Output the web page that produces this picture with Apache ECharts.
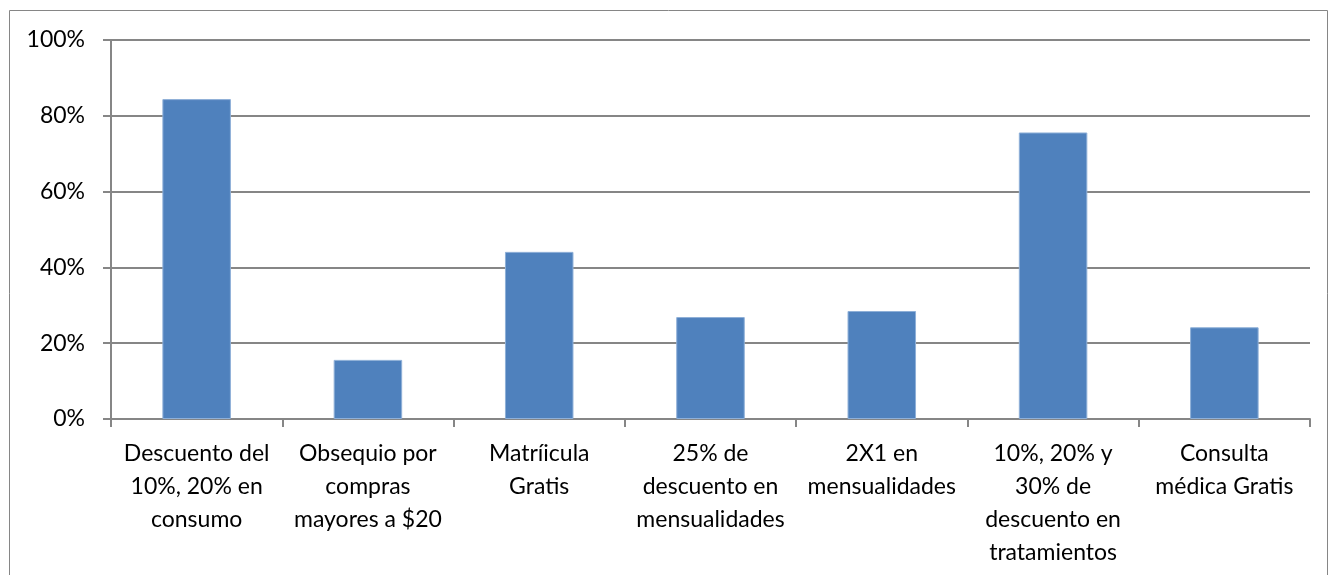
<!DOCTYPE html>
<html lang="es">
<head>
    <meta charset="UTF-8">
    <title>Promociones</title>
    <script src="https://cdn.jsdelivr.net/npm/echarts@6/dist/echarts.min.js"></script>
    <style>
        html, body { margin: 0; padding: 0; background: #fff; }
        #main { width: 1329px; height: 575px; }
    </style>
</head>
<body>
<div id="main"></div>
<script type="text/javascript">
    // categorias (saltos de linea como en el original)
    var categories = [
        'Descuento del\n10%, 20% en\nconsumo',
        'Obsequio por\ncompras\nmayores a $20',
        'Matríicula\nGratis',
        '25% de\ndescuento en\nmensualidades',
        '2X1 en\nmensualidades',
        '10%, 20% y\n30% de\ndescuento en\ntratamientos',
        'Consulta\nmédica Gratis'
    ];
    var values = [84.4, 15.6, 44.1, 26.9, 28.5, 75.6, 24.2];
    var yTicks = [0, 20, 40, 60, 80, 100];

    var gray = '#868686';
    var font = 'Lato, "Open Sans", sans-serif';

    var chartDom = document.getElementById('main');
    var myChart = echarts.init(chartDom);
    var option;

    option = {
        animation: false,
        graphic: [{
            type: 'rect',
            shape: { x: 9.5, y: 10.5, width: 1318, height: 600 },
            style: { fill: 'none', stroke: gray, lineWidth: 1 }
        }],
        grid: { left: 111, right: 19, top: 40, bottom: 156 },
        xAxis: {
            type: 'category',
            data: categories,
            axisLine: { lineStyle: { color: gray, width: 2 } },
            axisTick: { show: true, length: 8, lineStyle: { color: gray, width: 2 } },
            axisLabel: {
                interval: 0,
                margin: 18,
                color: '#000',
                fontFamily: font,
                fontSize: 23,
                lineHeight: 33,
                align: 'center'
            }
        },
        yAxis: {
            type: 'value',
            min: 0,
            max: 100,
            interval: 20,
            axisLine: { show: true, lineStyle: { color: gray, width: 2 } },
            axisTick: { show: true, length: 8, lineStyle: { color: gray, width: 2 } },
            splitLine: { lineStyle: { color: gray, width: 2 } },
            axisLabel: {
                margin: 26,
                color: '#000',
                fontFamily: font,
                fontSize: 23,
                formatter: function (v) { return yTicks.indexOf(v) >= 0 ? v + '%' : ''; }
            }
        },
        series: [{
            type: 'bar',
            data: values,
            barCategoryGap: '60%',
            itemStyle: { color: '#4F81BD', borderColor: '#8FB0D8', borderWidth: 1 }
        }]
    };

    option && myChart.setOption(option);
</script>
</body>
</html>
